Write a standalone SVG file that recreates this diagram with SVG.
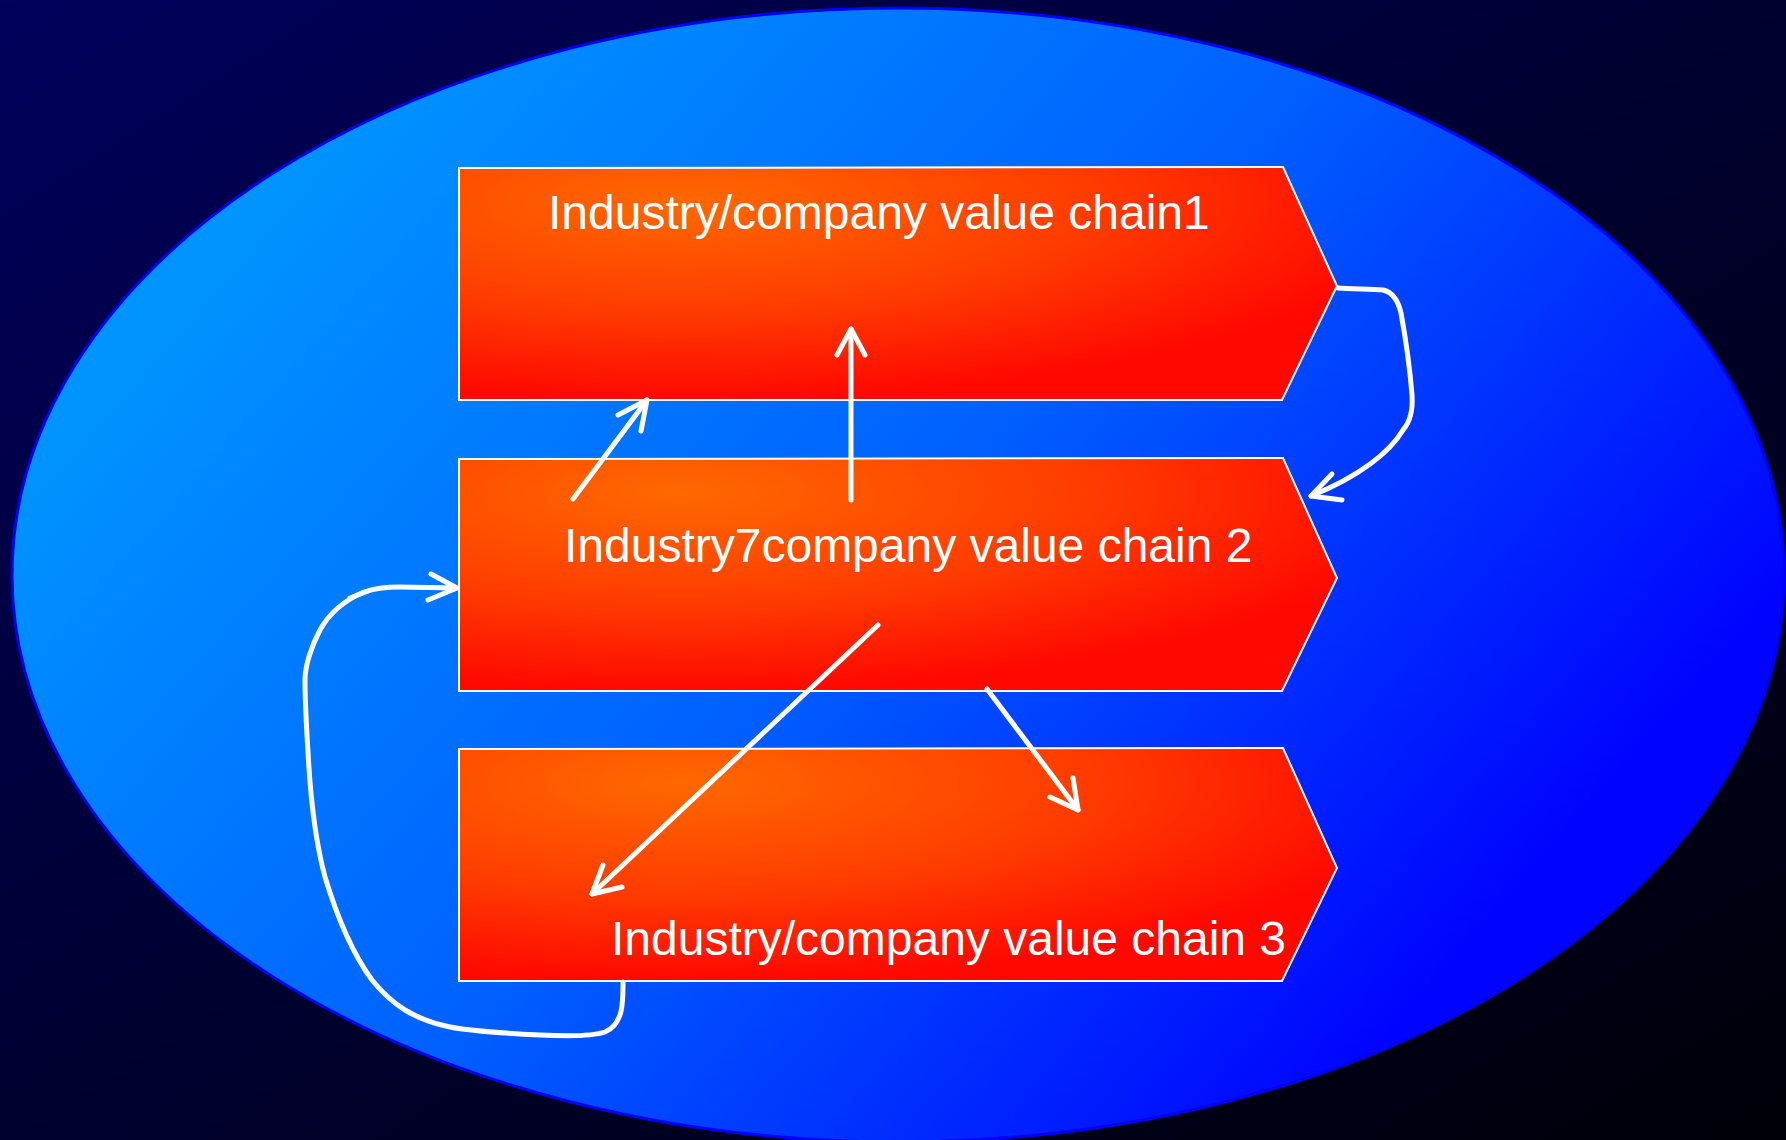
<svg xmlns="http://www.w3.org/2000/svg" width="1786" height="1140" viewBox="0 0 1786 1140">
  <defs>
    <linearGradient id="bg" x1="0" y1="0" x2="1" y2="1">
      <stop offset="0" stop-color="#00005c"/>
      <stop offset="0.5" stop-color="#000030"/>
      <stop offset="1" stop-color="#000008"/>
    </linearGradient>
    <linearGradient id="ell" x1="0.12" y1="0.2" x2="0.92" y2="0.65">
      <stop offset="0" stop-color="#0094ff"/>
      <stop offset="0.5" stop-color="#0060ff"/>
      <stop offset="1" stop-color="#0004ff"/>
    </linearGradient>
    <radialGradient id="box" cx="0.25" cy="0.15" r="0.85" fx="0.25" fy="0.15">
      <stop offset="0" stop-color="#ff6800"/>
      <stop offset="0.55" stop-color="#ff3c00"/>
      <stop offset="1" stop-color="#ff0800"/>
    </radialGradient>
  </defs>
  <style>
    .node { fill: url(#box); stroke: #ffffff; stroke-width: 2; }
    .label { font-family: "Liberation Sans", Arial, sans-serif; font-size: 48px; fill: #ffffff; }
    .conn { fill: none; stroke: #ffffff; stroke-width: 5; stroke-linecap: round; stroke-linejoin: round; }
  </style>
  <rect x="0" y="0" width="1786" height="1140" fill="url(#bg)"/>
  <ellipse id="ellipse" cx="898" cy="575" rx="886" ry="567" fill="url(#ell)" stroke="#0000ff" stroke-width="3"/>

  <g id="node1">
    <polygon class="node" points="459,168 1283,167 1337,286 1282,400 459,400"/>
    <text class="label" x="548" y="229">Industry/company value chain1</text>
  </g>
  <g id="node2">
    <polygon class="node" points="459,459 1283,458 1337,578 1282,691 459,691"/>
    <text class="label" x="564" y="562">Industry7company value chain 2</text>
  </g>
  <g id="node3">
    <polygon class="node" points="459,749 1283,748 1337,868 1282,981 459,981"/>
    <text class="label" x="611" y="955">Industry/company value chain 3</text>
  </g>

  <g id="connectors">
    <!-- node2 -> node1 diagonal -->
    <path class="conn" d="M573,499 L647,400"/>
    <path class="conn" d="M618,415 L647,400 L641,431"/>
    <!-- node2 -> node1 vertical -->
    <path class="conn" d="M851,500 L851,329"/>
    <path class="conn" d="M837,355 L851,329 L865,355"/>
    <!-- node1 tip -> node2 tip curve -->
    <path class="conn" d="M1338,288 C1350,289 1370,289 1383,290 C1392,292 1398,300 1401,313 C1405,335 1410,370 1412,395 C1413,410 1410,422 1403,430 C1390,452 1360,476 1311,496"/>
    <path class="conn" d="M1332,474 L1311,496 L1342,500"/>
    <!-- node2 -> node3 long diagonal -->
    <path class="conn" d="M878,625 L592,894"/>
    <path class="conn" d="M603,865 L592,894 L622,887"/>
    <!-- node2 -> node3 short diagonal -->
    <path class="conn" d="M987,689 L1078,810"/>
    <path class="conn" d="M1073,778 L1078,810 L1050,797"/>
    <!-- node3 bottom -> node2 left loop -->
    <path class="conn" d="M623,982 C623,1000 624,1024 605,1032 C590,1037 560,1036 540,1035 C500,1033 470,1031 450,1027 C415,1020 392,1005 372,980 C350,950 335,910 325,877 C315,840 310,790 308,752 C306,720 305,695 305,680 C305,665 312,645 320,630 C330,612 345,600 364,592 C375,588 385,587 400,587 L456,588"/>
    <path class="conn" d="M350,598 L368,591"/>
    <path class="conn" d="M431,574 L457,588 L428,600"/>
  </g>
</svg>
